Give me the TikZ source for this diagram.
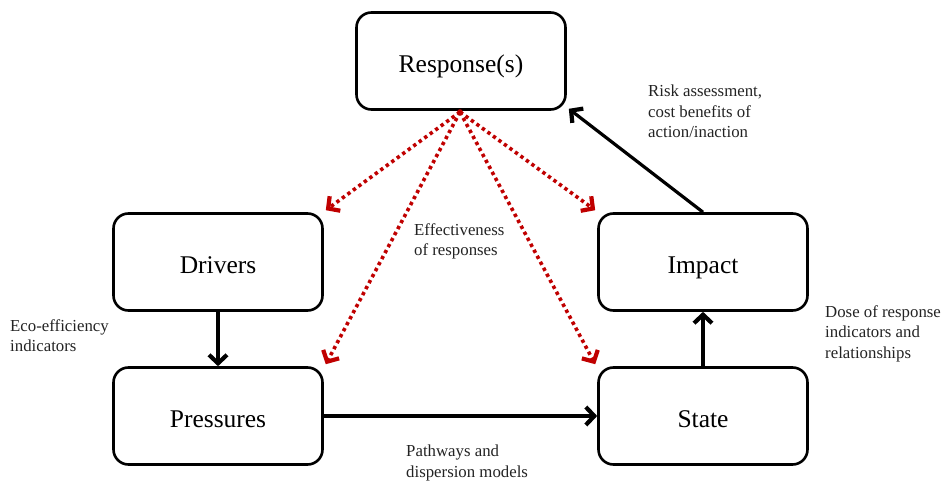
\documentclass[tikz,border=0pt]{standalone}
\usepackage{fontspec}
\setmainfont{Liberation Serif}
\usetikzlibrary{arrows.meta}
\definecolor{dotred}{RGB}{192,0,0}
\definecolor{txtgray}{RGB}{35,35,35}
\begin{document}
\begin{tikzpicture}[x=1pt,y=-1pt,
  stage/.style={draw=black, line width=2.6pt, rounded corners=15pt, minimum width=209pt,
    minimum height=97pt, inner sep=0pt, text height=23pt, text depth=0pt,
    font=\fontsize{25.5}{30}\selectfont},
  barb/.style={-{Straight Barb[length=8.5pt,width=18pt,line width=4.2pt]}},
  flow/.style={line width=3.2pt, barb},
  effect/.style={dotred, line width=3.6pt, dash pattern=on 3.4pt off 3.4pt, barb},
  note/.style={align=left, anchor=north west, inner sep=0pt, text=txtgray,
    font=\fontsize{16.8}{20.5}\selectfont}]
\useasboundingbox (0,0) rectangle (946,481);
\node[stage] (resp) at (461,61) {Response(s)};
\node[stage] (drv) at (218,262) {Drivers};
\node[stage] (imp) at (703,262) {Impact};
\node[stage] (prs) at (218,416) {Pressures};
\node[stage] (st) at (703,416) {State};
\coordinate (src) at (460,112);
\draw[effect] (src) -- ([xshift=2pt,yshift=2pt]drv.north east);
\draw[effect] (src) -- ([xshift=2pt,yshift=2pt]prs.north east);
\draw[effect] (src) -- ([xshift=-2pt,yshift=2pt]st.north west);
\draw[effect] (src) -- ([xshift=-2pt,yshift=2pt]imp.north west);
\fill[dotred] (src) circle (2.8pt);
\draw[flow] (imp.north) -- ([xshift=2pt,yshift=2pt]resp.south east);
\draw[flow] (drv.south) -- (prs.north);
\draw[flow] (prs.east) -- (st.west);
\draw[flow] (st.north) -- (imp.south);
\node[note] (n1) at (648,85) {Risk assessment,\\cost benefits of\\action/inaction};
\node[note] (n2) at (414,223) {Effectiveness\\of responses};
\node[note] (n3) at (10,319) {Eco-efficiency\\indicators};
\node[note] (n4) at (825,305) {Dose of response\\indicators and\\relationships};
\node[note] (n5) at (406,445) {Pathways and\\dispersion models};
\end{tikzpicture}
\end{document}
